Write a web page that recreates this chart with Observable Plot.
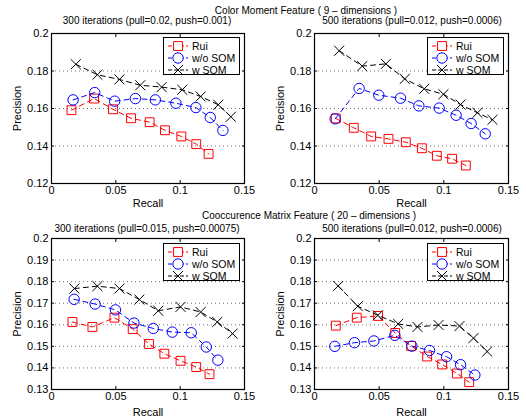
<!DOCTYPE html>
<html><head><meta charset="utf-8">
<script src="https://cdn.jsdelivr.net/npm/d3@7"></script>
<script src="https://cdn.jsdelivr.net/npm/@observablehq/plot@0.6"></script>
<style>
body{margin:0;background:#fff;}
#root{position:relative;width:526px;height:417px;background:#fff;font-family:"Liberation Sans",Arial,sans-serif;color:#000;overflow:hidden}
.ttl{position:absolute;font-size:10px;white-space:nowrap;transform:translateX(-50%);line-height:1}
.pnl{position:absolute}
.leg{position:absolute;border:1px solid #000;background:#fff;font-size:10.5px;box-sizing:border-box;padding:2px 0 0 3px}
.leg div{height:12px;display:flex;align-items:center}
.leg svg{margin-right:3px}
</style>
</head><body>
<div id="root"></div>
<script>
// ---- data ----
const seriesNames = ["Rui", "w/o SOM", "w SOM"];
const recallTicks = [0, 0.05, 0.1, 0.15];
const precTicksTop = [0.12, 0.14, 0.16, 0.18, 0.2];
const precTicksBottom = [0.13, 0.14, 0.15, 0.16, 0.17, 0.18, 0.19, 0.2];
const mainTitles = ["Color Moment Feature ( 9 \u2013 dimensions )", "Cooccurence Matrix Feature ( 20 \u2013 dimensions )"];
const subTitles = ["300 iterations (pull=0.02, push=0.001)", "500 iterations (pull=0.012, push=0.0006)",
                   "300 iterations (pull=0.015, push=0.00075)", "500 iterations (pull=0.012, push=0.0006)"];

// Panel 1: Color moment, 300 iterations
const p1RuiX = [0.0155,0.0331,0.0478,0.0618,0.0763,0.0882,0.1009,0.1125,0.1221];
const p1RuiY = [0.1591,0.1653,0.1596,0.1548,0.1527,0.1484,0.1451,0.1410,0.1358];
const p1WoX  = [0.0168,0.0336,0.0491,0.0652,0.0807,0.0967,0.1122,0.1234,0.1332];
const p1WoY  = [0.1646,0.1685,0.1639,0.1653,0.1646,0.1628,0.1605,0.1552,0.1483];
const p1WX   = [0.0189,0.0357,0.0528,0.0690,0.0856,0.1016,0.1159,0.1296,0.1394];
const p1WY   = [0.1836,0.1780,0.1755,0.1724,0.1714,0.1700,0.1664,0.1620,0.1556];
// Panel 2: Color moment, 500 iterations
const p2RuiX = [0.0165,0.0304,0.0438,0.0572,0.0706,0.0830,0.0946,0.1064,0.1170];
const p2RuiY = [0.1547,0.1497,0.1451,0.1438,0.1420,0.1388,0.1348,0.1332,0.1296];
const p2WoX  = [0.0160,0.0345,0.0497,0.0665,0.0807,0.0964,0.1095,0.1211,0.1320];
const p2WoY  = [0.1545,0.1707,0.1671,0.1655,0.1614,0.1602,0.1564,0.1520,0.1465];
const p2WX   = [0.0191,0.0369,0.0552,0.0698,0.0848,0.0997,0.1129,0.1260,0.1376];
const p2WY   = [0.1908,0.1826,0.1838,0.1758,0.1705,0.1676,0.1621,0.1577,0.1540];
// Panel 3: Cooccurrence, 300 iterations
const p3RuiX = [0.0163,0.0318,0.0489,0.0631,0.0758,0.0877,0.1003,0.1125,0.1228];
const p3RuiY = [0.1613,0.1590,0.1633,0.1580,0.1511,0.1466,0.1433,0.1404,0.1371];
const p3WoX  = [0.0176,0.0339,0.0497,0.0641,0.0791,0.0939,0.1086,0.1203,0.1293];
const p3WoY  = [0.1718,0.1696,0.1669,0.1608,0.1583,0.1566,0.1563,0.1497,0.1436];
const p3WX   = [0.0178,0.0357,0.0528,0.0683,0.0830,0.1003,0.1159,0.1288,0.1407];
const p3WY   = [0.1768,0.1779,0.1768,0.1717,0.1665,0.1683,0.1659,0.1613,0.1559];
// Panel 4: Cooccurrence, 500 iterations
const p4RuiX = [0.0165,0.0327,0.0492,0.0624,0.0747,0.0871,0.0987,0.1101,0.1196];
const p4RuiY = [0.1596,0.1633,0.1641,0.1562,0.1502,0.1453,0.1416,0.1374,0.1334];
const p4WoX  = [0.0157,0.0309,0.0459,0.0621,0.0753,0.0889,0.1021,0.1129,0.1240];
const p4WoY  = [0.1500,0.1517,0.1525,0.1551,0.1501,0.1481,0.1452,0.1415,0.1367];
const p4WX   = [0.0183,0.0335,0.0490,0.0647,0.0796,0.0959,0.1121,0.1229,0.1335];
const p4WY   = [0.1780,0.1686,0.1644,0.1604,0.1590,0.1599,0.1594,0.1538,0.1476];

// ---- styles ----
const colors = ["#ff0000", "#0000ff", "#000000"];
const symbols = ["square", "circle", "times"];
const radii = [5, 5.2, 4.6];

const root = document.getElementById("root");
const fmt = d => String(+d.toFixed(4));

function rows(xs, ys) { return xs.map((x, i) => ({x, y: ys[i]})); }

function panel(series, yTicks, layout) {
  const marks = [
    Plot.gridY(yTicks.slice(1, -1), {stroke: "#000", strokeOpacity: 0.55, strokeDasharray: "1,3"}),
    Plot.axisX(recallTicks, {tickSize: -3, tickPadding: 6, tickFormat: fmt, label: "Recall", labelAnchor: "center", labelOffset: layout.lo, labelArrow: "none", fontSize: 11}),
    Plot.axisX(recallTicks, {anchor: "top", tickSize: -3, tickFormat: () => "", label: null}),
    Plot.axisY(yTicks, {tickSize: -3, tickPadding: 6, tickFormat: fmt, label: "Precision", labelAnchor: "center", labelOffset: 38, labelArrow: "none", fontSize: 11}),
    Plot.axisY(yTicks, {anchor: "right", tickSize: -3, tickFormat: () => "", label: null}),
  ];
  series.forEach((s, i) => {
    const data = rows(s[0], s[1]);
    marks.push(Plot.line(data, {x: "x", y: "y", stroke: colors[i], strokeWidth: 1, strokeDasharray: "5,4"}));
    marks.push(Plot.dot(data, {x: "x", y: "y", symbol: symbols[i], r: radii[i], stroke: colors[i], strokeWidth: 1, fill: "none"}));
  });
  marks.push(Plot.frame({stroke: "#000", strokeWidth: 1.2}));
  const chart = Plot.plot({
    width: layout.width, height: layout.height,
    marginLeft: layout.ml, marginRight: layout.mr, marginTop: layout.mt, marginBottom: layout.mb,
    x: {domain: [0, 0.15]},
    y: {domain: [yTicks[0], yTicks[yTicks.length - 1]]},
    style: {fontFamily: "'Liberation Sans', Arial, sans-serif", fontSize: "11px", background: "transparent", overflow: "visible", color: "#000"},
    marks
  });
  chart.classList.add("pnl");
  chart.style.left = layout.left + "px";
  chart.style.top = layout.top + "px";
  root.appendChild(chart);
}

function legend(left, top) {
  const box = document.createElement("div");
  box.className = "leg";
  box.style.left = left + "px"; box.style.top = top + "px";
  box.style.width = "77px"; box.style.height = "38px";
  seriesNames.forEach((name, i) => {
    const row = document.createElement("div");
    const svg = d3.create("svg").attr("width", 22).attr("height", 12);
    svg.append("line").attr("x1", 1).attr("x2", 21).attr("y1", 6).attr("y2", 6)
      .attr("stroke", colors[i]).attr("stroke-dasharray", "4,2");
    const sym = [d3.symbolSquare, d3.symbolCircle, d3.symbolTimes][i];
    svg.append("path").attr("transform", "translate(11,6)")
      .attr("d", d3.symbol(sym, Math.PI * radii[i] * radii[i])())
      .attr("fill", i === 2 ? "none" : "#fff").attr("stroke", colors[i]);
    row.appendChild(svg.node());
    row.appendChild(document.createTextNode(name));
    box.appendChild(row);
  });
  root.appendChild(box);
}

function title(text, cx, y) {
  const t = document.createElement("div");
  t.className = "ttl"; t.textContent = text;
  t.style.left = cx + "px"; t.style.top = y + "px";
  root.appendChild(t);
}

const topLayout = {height: 210, mt: 33, mb: 27, top: 0, lo: 23};
const botLayout = {height: 217, mt: 38, mb: 28, top: 200, lo: 26};

panel([[p1RuiX, p1RuiY], [p1WoX, p1WoY], [p1WX, p1WY]], precTicksTop, {...topLayout, left: 0, width: 263, ml: 51, mr: 19});
panel([[p2RuiX, p2RuiY], [p2WoX, p2WoY], [p2WX, p2WY]], precTicksTop, {...topLayout, left: 263, width: 263, ml: 51, mr: 18});
panel([[p3RuiX, p3RuiY], [p3WoX, p3WoY], [p3WX, p3WY]], precTicksBottom, {...botLayout, left: 0, width: 263, ml: 51, mr: 19});
panel([[p4RuiX, p4RuiY], [p4WoX, p4WoY], [p4WX, p4WY]], precTicksBottom, {...botLayout, left: 263, width: 263, ml: 51, mr: 18});

legend(163, 37); legend(427, 37); legend(163, 243); legend(427, 243);

title(mainTitles[0], 306, 6);
title(subTitles[0], 147, 16);
title(subTitles[1], 412, 16);
title(mainTitles[1], 309, 211);
title(subTitles[2], 147, 224);
title(subTitles[3], 412, 224);
</script>
</body></html>
